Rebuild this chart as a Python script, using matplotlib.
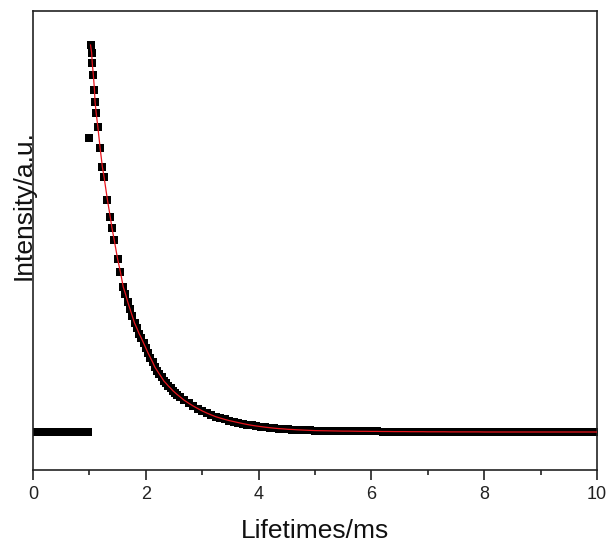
import matplotlib
matplotlib.use("Agg")
import matplotlib.pyplot as plt

# ------------------------------------------------------------------------------------------
# values (intensity in arbitrary units)
plt.rcParams["font.family"] = ["Liberation Sans", "DejaVu Sans"]

# flat part before the excitation pulse
baseline_t = [0.0, 0.1, 0.2, 0.3, 0.4, 0.5, 0.6, 0.7, 0.8, 0.9, 0.97]
baseline_i = [381, 380, 382, 380, 379, 381, 380, 381, 379, 380, 381]

# single point off the curve right at the pulse
outlier_t = [0.99]
outlier_i = [3320]

# decay, top part where single markers can be told apart
top_t = [1.02, 1.04, 1.05, 1.07, 1.09, 1.10, 1.12, 1.15, 1.19, 1.23, 1.26, 1.32,
         1.37, 1.40, 1.44, 1.50, 1.55, 1.60]
top_i = [4250, 4170, 4070, 3950, 3800, 3680, 3570, 3430, 3220, 3030, 2930, 2700,
         2530, 2420, 2300, 2110, 1980, 1830]

# decay, dense middle part
mid_t = [1.64, 1.68, 1.72, 1.76, 1.80, 1.84, 1.88, 1.92, 1.96, 2.00, 2.04, 2.08,
         2.12, 2.16, 2.20, 2.24, 2.28, 2.32, 2.36, 2.40, 2.44, 2.48, 2.52, 2.56, 2.60,
         2.68, 2.76, 2.84, 2.92, 3.00, 3.08, 3.16, 3.24, 3.32, 3.40, 3.48, 3.56, 3.64,
         3.72, 3.80, 3.88, 3.96, 4.04, 4.12, 4.20, 4.28, 4.36, 4.44, 4.52, 4.60, 4.68,
         4.76, 4.84, 4.92, 5.00]
mid_i = [1760, 1680, 1610, 1540, 1470, 1420, 1365, 1320, 1270, 1220, 1170, 1125,
         1080, 1030, 995, 960, 926, 890, 866, 840, 818, 793, 773, 753, 735,
         698, 668, 640, 615, 591, 570, 551, 533, 519, 506, 494, 484, 474,
         464, 455, 447, 440, 434, 428, 423, 418, 414, 411, 407, 405, 402,
         400, 398, 396, 394]

# long tail
tail_t = [5.1, 5.2, 5.3, 5.4, 5.5, 5.6, 5.7, 5.8, 5.9, 6.0,
          6.1, 6.2, 6.3, 6.4, 6.5, 6.6, 6.7, 6.8, 6.9, 7.0,
          7.1, 7.2, 7.3, 7.4, 7.5, 7.6, 7.7, 7.8, 7.9, 8.0,
          8.1, 8.2, 8.3, 8.4, 8.5, 8.6, 8.7, 8.8, 8.9, 9.0,
          9.1, 9.2, 9.3, 9.4, 9.5, 9.6, 9.7, 9.8, 9.9, 10.0]
tail_i = [393, 392, 391, 390, 389, 389, 388, 387, 387, 386,
          386, 385, 385, 384, 384, 384, 383, 383, 383, 382,
          382, 382, 382, 381, 381, 381, 381, 381, 381, 380,
          380, 380, 380, 380, 380, 380, 380, 380, 380, 380,
          380, 380, 380, 380, 380, 380, 380, 380, 380, 380]

x_major = [0, 2, 4, 6, 8, 10]
x_minor = [1, 3, 5, 7, 9]

decay_t = top_t + mid_t + tail_t
decay_i = top_i + mid_i + tail_i

# ------------------------------------------------------------------------------------------
fig = plt.figure(figsize=(6.09, 5.43), dpi=100)
ax = fig.add_axes([33 / 609, 73 / 543, 564 / 609, 459 / 543])

marker_kw = dict(linestyle="none", marker="s", color="black", markeredgewidth=0)
ax.plot(baseline_t, baseline_i, markersize=5.5, **marker_kw)
ax.plot(outlier_t, outlier_i, markersize=5.5, **marker_kw)
ax.plot(decay_t, decay_i, markersize=6, **marker_kw)

# fitted decay
ax.plot(decay_t, decay_i, color="#e8141c", linewidth=0.9, zorder=3)

ax.set_xlim(0, 10)
ax.set_ylim(0, 4590)
ax.set_xticks(x_major)
ax.set_xticks(x_minor, minor=True)
ax.set_yticks([])

for sp in ax.spines.values():
    sp.set_linewidth(1.2)
    sp.set_color("#222222")

ax.tick_params(axis="x", which="major", direction="out", length=7.2, width=1.2,
               color="#222222", labelsize=13, labelcolor="#222222", pad=4)
ax.tick_params(axis="x", which="minor", direction="out", length=3.6, width=1.2,
               color="#222222")

fig.text(315 / 609, 1 - 538 / 543, "Lifetimes/ms", ha="center", va="baseline",
         fontsize=19, color="#111111")
fig.text(24 / 609, 1 - 205 / 543, "Intensity/a.u.", ha="center", va="center",
         rotation=90, fontsize=19, color="#111111")

fig.savefig("out.png", dpi=100)
